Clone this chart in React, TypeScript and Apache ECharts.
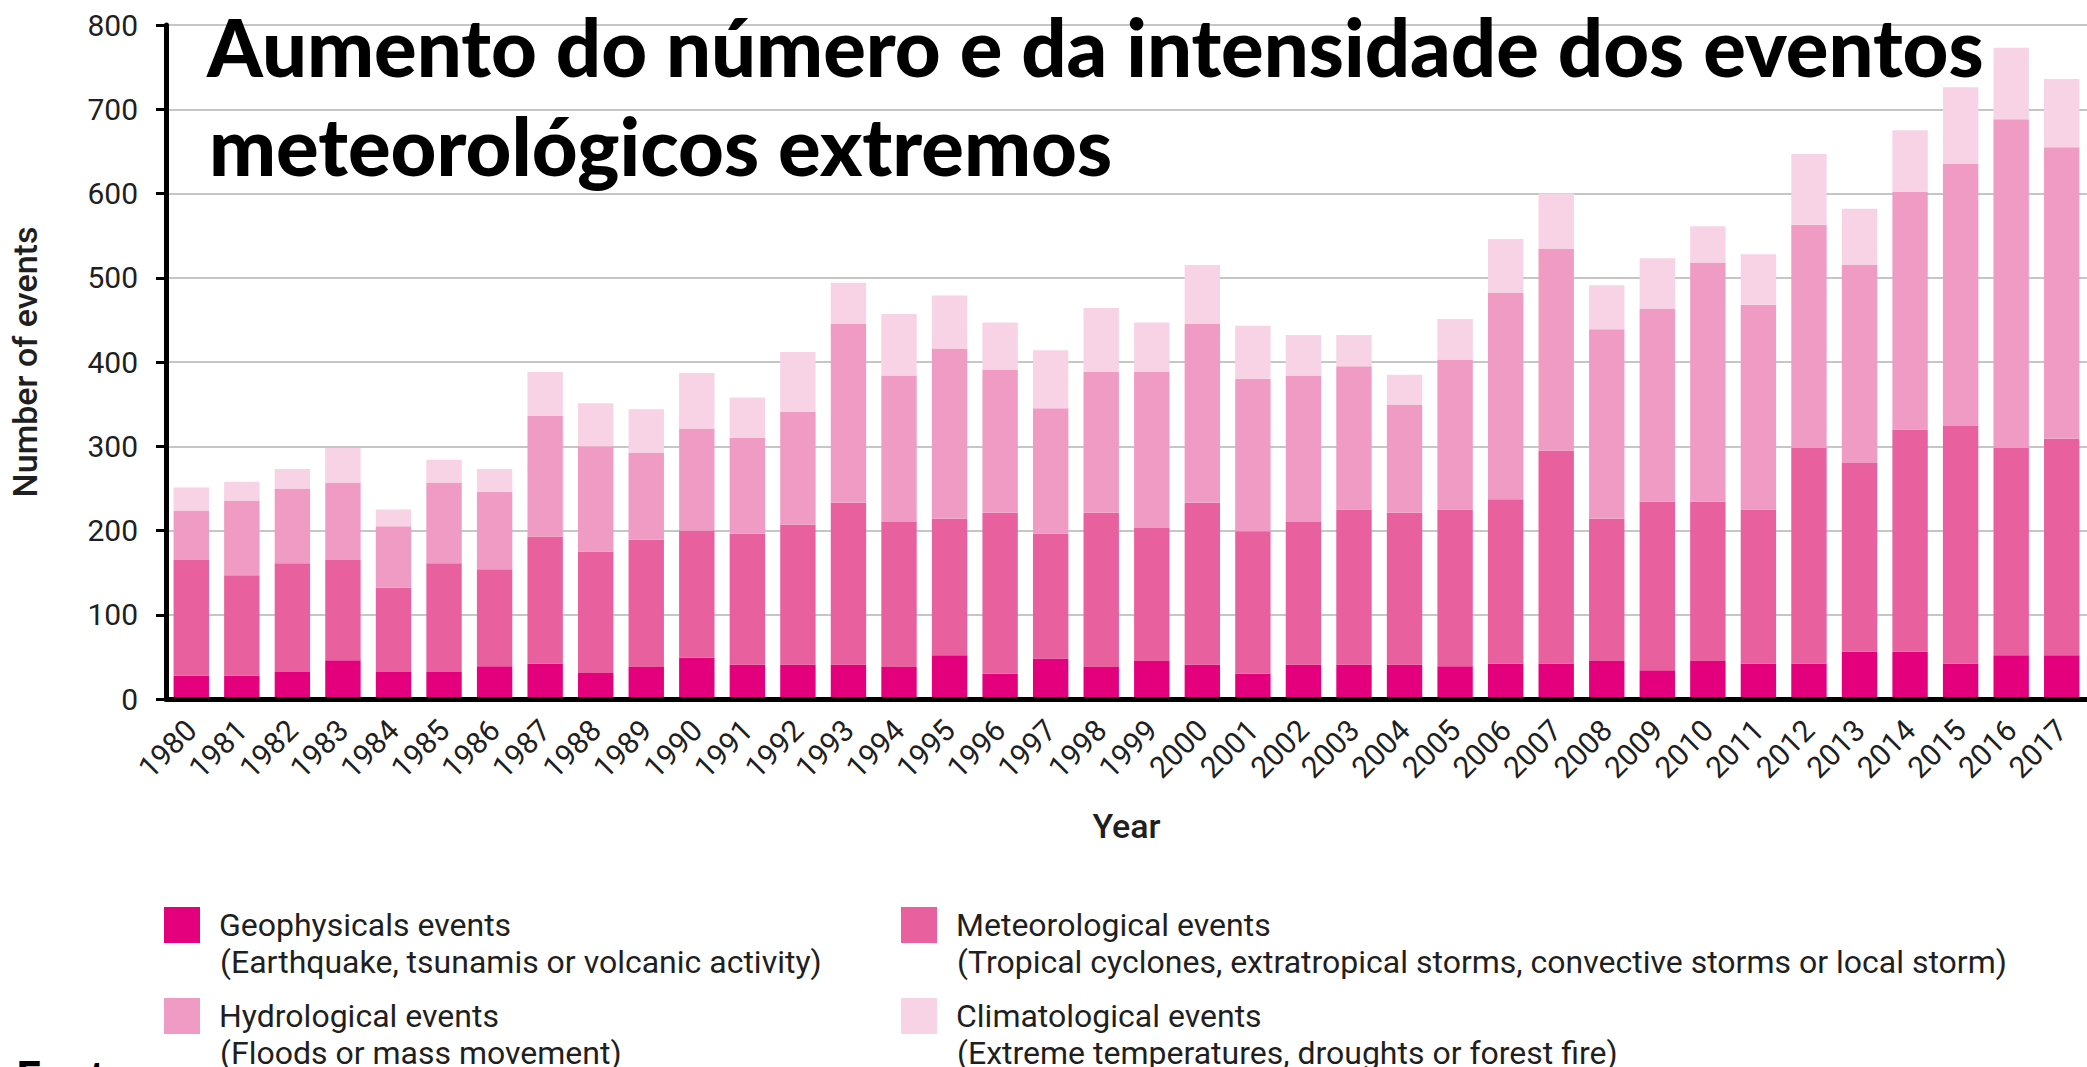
import React, { useEffect, useRef } from "react";
import * as echarts from "echarts";

const years = [
  "1980","1981","1982","1983","1984","1985","1986","1987","1988","1989",
  "1990","1991","1992","1993","1994","1995","1996","1997","1998","1999",
  "2000","2001","2002","2003","2004","2005","2006","2007","2008","2009",
  "2010","2011","2012","2013","2014","2015","2016","2017",
];

const geophysical = [28,28,32,46,32,32,39,42,31,38,49,41,41,41,38,52,30,48,38,45,41,30,41,41,41,39,42,42,45,34,45,42,42,56,56,42,52,52];
const meteorological = [137,119,129,119,100,129,115,151,144,151,151,155,166,192,172,162,191,148,183,158,192,169,169,184,180,186,195,253,169,200,189,183,256,224,264,282,246,257];
const hydrological = [58,88,89,92,73,96,92,143,125,103,121,114,134,212,174,202,170,149,167,185,212,181,174,170,128,178,245,239,225,229,284,243,265,235,282,311,390,346];
const climatological = [28,23,23,41,20,27,27,52,51,52,66,48,71,49,73,63,56,69,76,59,70,63,48,37,36,48,64,66,52,60,43,60,84,67,73,91,85,81];

const yTicks = [0, 100, 200, 300, 400, 500, 600, 700, 800];

const seriesNames = [
  "Geophysicals events",
  "Meteorological events",
  "Hydrological events",
  "Climatological events",
];
const seriesDescriptions = [
  "(Earthquake, tsunamis or volcanic activity)",
  "(Tropical cyclones, extratropical storms, convective storms or local storm)",
  "(Floods or mass movement)",
  "(Extreme temperatures, droughts or forest fire)",
];
const colors = ["#E4007D", "#E8609E", "#F09BC3", "#F7D3E5"];

const titleLines = [
  "Aumento do número e da intensidade dos eventos",
  "meteorológicos extremos",
];

const W = 2087;
const H = 1067;

export default function App() {
  const ref = useRef<HTMLDivElement>(null);

  useEffect(() => {
    if (!ref.current) return;
    const chart = echarts.init(ref.current, null, { renderer: "svg" });

    const titleWeight = 900;
    let titleSize = 80;
    try {
      const c = document.createElement("canvas").getContext("2d");
      if (c) {
        c.font = titleWeight + " 100px Lato";
        const w = c.measureText(titleLines[0]).width;
        if (w > 0) titleSize = (100 * 1777) / w;
      }
    } catch (e) {}

    const dataSets = [geophysical, meteorological, hydrological, climatological];
    const font = "Roboto";
    const textColor = "#1f1f1f";

    const legendPos = [
      { left: 164, top: 907 },
      { left: 901, top: 907 },
      { left: 164, top: 998 },
      { left: 901, top: 998 },
    ];
    const descPos = [
      { x: 220, y: 962 },
      { x: 957, y: 962 },
      { x: 220, y: 1053 },
      { x: 957, y: 1053 },
    ];

    chart.setOption({
      animation: false,
      backgroundColor: "#ffffff",
      grid: { left: 164, right: 0, top: 25, bottom: H - 699, containLabel: false },
      xAxis: {
        type: "category",
        data: years,
        name: "Year",
        nameLocation: "middle",
        nameGap: 110,
        nameTextStyle: { fontFamily: font, fontSize: 34, fontWeight: 500, color: textColor },
        axisLine: { show: true, lineStyle: { color: "#000", width: 5 } },
        axisTick: { show: false },
        axisLabel: {
          rotate: 45,
          margin: 26,
          fontFamily: font,
          fontSize: 30,
          color: textColor,
          interval: 0,
        },
        z: 10,
      },
      yAxis: {
        type: "value",
        min: yTicks[0],
        max: yTicks[yTicks.length - 1],
        interval: 100,
        name: "Number of events",
        nameLocation: "middle",
        nameGap: 124,
        nameRotate: 90,
        nameTextStyle: { fontFamily: font, fontSize: 34, fontWeight: 500, color: textColor },
        axisLine: { show: true, lineStyle: { color: "#000", width: 5 } },
        axisTick: { show: true, length: 10, lineStyle: { color: "#000", width: 3 } },
        axisLabel: { margin: 28, fontFamily: font, fontSize: 30, color: textColor },
        splitLine: { show: true, lineStyle: { color: "#c6c6c6", width: 2 } },
      },
      legend: seriesNames.map((n, i) => ({
        data: [n],
        left: legendPos[i].left,
        top: legendPos[i].top,
        padding: 0,
        icon: "rect",
        itemWidth: 36,
        itemHeight: 36,
        selectedMode: false,
        textStyle: {
          fontFamily: font,
          fontSize: 32,
          color: textColor,
          padding: [0, 0, 0, 14],
        },
      })),
      series: seriesNames.map((n, i) => ({
        name: n,
        type: "bar",
        stack: "total",
        data: dataSets[i],
        barCategoryGap: "30%",
        itemStyle: { color: colors[i] },
      })),
      graphic: [
        ...seriesDescriptions.map((d, i) => ({
          type: "text",
          x: descPos[i].x,
          y: descPos[i].y,
          style: {
            text: d,
            fontFamily: font,
            fontSize: 32,
            fill: textColor,
            verticalAlign: "middle",
            align: "left",
          },
          z: 100,
        })),
        {
          type: "text",
          x: 207,
          y: 46,
          style: {
            text: titleLines[0],
            fontFamily: "Lato",
            fontWeight: titleWeight,
            fontSize: titleSize,
            fill: "#000",
            verticalAlign: "middle",
            align: "left",
          },
          z: 100,
        },
        {
          type: "text",
          x: 209,
          y: 145,
          style: {
            text: titleLines[1],
            fontFamily: "Lato",
            fontWeight: titleWeight,
            fontSize: titleSize,
            fill: "#000",
            verticalAlign: "middle",
            align: "left",
          },
          z: 100,
        },
        {
          type: "text",
          x: 16,
          y: 1076,
          style: {
            text: "Fonte:",
            fontFamily: "Lato",
            fontWeight: titleWeight,
            fontSize: 44,
            fill: "#000",
            verticalAlign: "middle",
            align: "left",
          },
          z: 100,
        },
      ],
    });

    return () => {
      chart.dispose();
    };
  }, []);

  return (
    <div
      ref={ref}
      style={{ position: "fixed", left: 0, top: 0, width: W, height: H, background: "#fff" }}
    />
  );
}
